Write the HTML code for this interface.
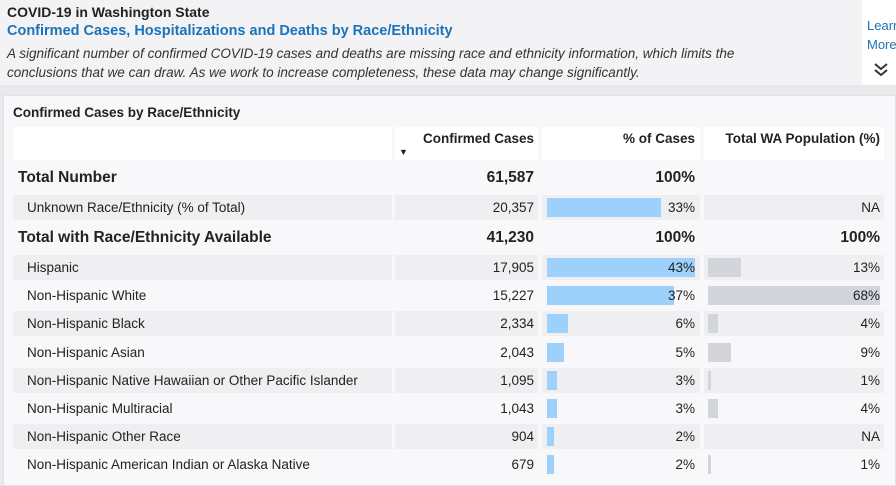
<!DOCTYPE html>
<html><head><meta charset="utf-8">
<style>
*{margin:0;padding:0;box-sizing:border-box}
body{width:896px;height:486px;overflow:hidden;background:#e9e9ec;font-family:"Liberation Sans",sans-serif;position:relative;color:#222}
#top{position:absolute;left:0;top:0;width:862px;height:85px;background:#f3f3f6}
#side{position:absolute;left:862px;top:0;width:34px;height:85px;background:#fff}
.t{position:absolute;white-space:nowrap}
#panel{position:absolute;left:3px;top:95px;width:893px;height:391px;background:#f8f8fa;border:1px solid #e2e2e6}
.c{position:absolute;height:25px;background:#efeff2}
.txt{position:absolute;font-size:13.5px;white-space:nowrap;line-height:16px}
.b{font-weight:bold;font-size:15.5px}
</style></head><body>
<div id="top">
<div class="t" style="left:7px;top:4px;font-size:14px;font-weight:bold;color:#222">COVID-19 in Washington State</div>
<div class="t" style="left:7px;top:23px;font-size:14.5px;font-weight:bold;color:#1a73b8">Confirmed Cases, Hospitalizations and Deaths by Race/Ethnicity</div>
<div class="t" style="left:7px;top:44px;font-size:13.5px;font-style:italic;color:#333;line-height:19px">A significant number of confirmed COVID-19 cases and deaths are missing race and ethnicity information, which limits the<br>conclusions that we can draw. As we work to increase completeness, these data may change significantly.</div>
</div>
<div id="side">
<div class="t" style="left:5px;top:18px;font-size:13px;color:#1a73b8">Learn<br><span style="line-height:24px">More</span></div>
<svg style="position:absolute;left:12px;top:63px" width="14" height="14"><path d="M1 1 L7 6 L13 1 M1 7 L7 12 L13 7" stroke="#333" stroke-width="2" fill="none"/></svg>
</div>
<div id="panel"></div>
<div class="t" style="left:13px;top:105px;font-size:13.5px;font-weight:bold">Confirmed Cases by Race/Ethnicity</div>
<div id="tbl"></div>
<script>
const labels=["Hispanic","Non-Hispanic White","Non-Hispanic Black","Non-Hispanic Asian","Non-Hispanic Native Hawaiian or Other Pacific Islander","Non-Hispanic Multiracial","Non-Hispanic Other Race","Non-Hispanic American Indian or Alaska Native"];
const cases=["17,905","15,227","2,334","2,043","1,095","1,043","904","679"];
const pctCases=[43,37,6,5,3,3,2,2];
const pctPop=[13,68,4,9,1,4,null,1];
const caseScale=3.44, popScale=2.53;
const T=document.getElementById('tbl');
function add(html,cls,style,name){const d=document.createElement('div');d.className=cls;d.style.cssText=style;d.innerHTML=html;


T.appendChild(d);return d;}
add('','c','left:13px;top:127px;width:379px;height:33px;background:#fff','header-label-cell');
add('','c','left:395px;top:127px;width:143px;height:33px;background:#fff','header-cases-cell');
add('','c','left:542px;top:127px;width:158px;height:33px;background:#fff','header-pct-cell');
add('','c','left:704px;top:127px;width:180px;height:33px;background:#fff','header-pop-cell');
add('Confirmed Cases','txt','right:362px;top:131px;font-weight:bold;font-size:13.5px','header-confirmed-cases');
add('% of Cases','txt','right:201px;top:131px;font-weight:bold;font-size:13.5px','header-pct-cases');
add('Total WA Population (%)','txt','right:16px;top:131px;font-weight:bold;font-size:13.5px','header-population');
add('&#9660;','txt','left:399px;top:144px;font-size:9px','sort-arrow');
add('Total Number','txt b','left:18px;top:170px','total-number-label');
add('61,587','txt b','right:362px;top:170px','total-number-cases');
add('100%','txt b','right:201px;top:170px','total-number-pct');
function cells(y,name){
 add('','c',`left:13px;top:${y}px;width:379px`,name+'-label-cell');
 add('','c',`left:395px;top:${y}px;width:143px`,name+'-cases-cell');
 add('','c',`left:542px;top:${y}px;width:158px`,name+'-pct-cell');
 add('','c',`left:704px;top:${y}px;width:180px`,name+'-pop-cell');
}
cells(195,'unknown');
add('Unknown Race/Ethnicity (% of Total)','txt','left:27px;top:200px','unknown-label');
add('20,357','txt','right:362px;top:200px','unknown-cases');
add('','txt',`left:547px;top:198px;width:${33*caseScale}px;height:19px;background:#9dd0fb`,'unknown-bar');
add('33%','txt','right:201px;top:200px','unknown-pct');
add('NA','txt','right:16px;top:200px','unknown-pop');
add('Total with Race/Ethnicity Available','txt b','left:18px;top:230px','total-available-label');
add('41,230','txt b','right:362px;top:230px','total-available-cases');
add('100%','txt b','right:201px;top:230px','total-available-pct');
add('100%','txt b','right:16px;top:230px','total-available-pop');
labels.forEach((l,i)=>{
 const y=255+i*28.2; const n='row-'+i;
 if(i%2===0) cells(y,n);
 add('','txt',`left:547px;top:${y+3}px;width:${pctCases[i]*caseScale}px;height:19px;background:#9dd0fb`,n+'-case-bar');
 if(pctPop[i]!==null) add('','txt',`left:708px;top:${y+3}px;width:${Math.max(2,pctPop[i]*popScale)}px;height:19px;background:#d2d5dc`,n+'-pop-bar');
 add(l,'txt',`left:27px;top:${y+5}px`,n+'-label');
 add(cases[i],'txt',`right:362px;top:${y+5}px`,n+'-cases');
 add(pctCases[i]+'%','txt',`right:201px;top:${y+5}px`,n+'-pct');
 add(pctPop[i]===null?'NA':pctPop[i]+'%','txt',`right:16px;top:${y+5}px`,n+'-pop');
});
</script>
</body></html>
